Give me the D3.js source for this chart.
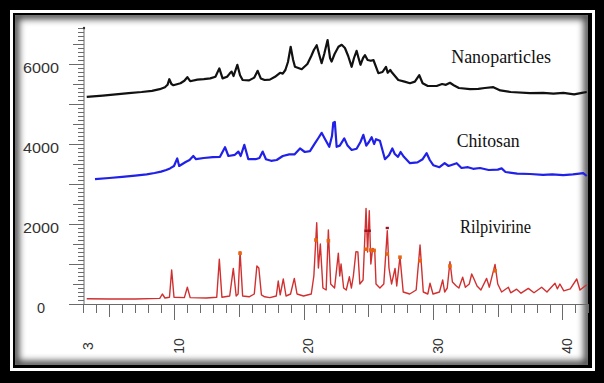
<!DOCTYPE html>
<html><head><meta charset="utf-8">
<script src="https://cdn.jsdelivr.net/npm/d3@7"></script>
<style>html,body{margin:0;padding:0;background:#000;}svg{display:block;}</style>
</head><body>
<script>
// ---- data ----
const nanoparticles = [[3.26,5180],[4.5,5210],[5.5,5240],[6.5,5270],[7.5,5300],[8.3,5330],[8.9,5370],[9.3,5420],[9.5,5480],[9.64,5620],[9.8,5500],[9.95,5470],[10.5,5520],[10.8,5580],[11.03,5670],[11.25,5570],[11.8,5610],[12.3,5620],[12.8,5640],[13.2,5680],[13.5,5890],[13.75,5640],[14.1,5680],[14.3,5760],[14.45,5810],[14.6,5700],[14.89,5980],[15.1,5720],[15.3,5600],[15.8,5590],[16.2,5660],[16.46,5830],[16.7,5640],[17.0,5600],[17.4,5610],[17.8,5680],[18.19,5780],[18.4,5760],[18.6,5850],[18.8,6050],[19.01,6430],[19.2,6100],[19.34,5930],[19.86,5870],[20.3,6000],[20.6,6200],[20.8,6350],[21.02,6470],[21.2,6250],[21.4,6020],[21.6,6250],[21.86,6600],[22.05,6150],[22.17,6060],[22.4,6250],[22.7,6430],[22.95,6480],[23.2,6400],[23.45,6200],[23.72,5930],[23.9,6150],[24.1,6330],[24.25,6150],[24.4,5980],[24.6,6150],[24.75,6220],[24.95,6100],[25.2,6080],[25.4,6100],[25.78,5770],[26.1,5800],[26.37,5930],[26.5,5780],[26.7,5850],[26.85,5780],[27.32,5600],[27.8,5560],[28.22,5520],[28.6,5560],[28.94,5720],[29.2,5520],[29.6,5450],[30.28,5450],[30.7,5500],[31.0,5480],[31.31,5530],[31.6,5470],[32.0,5400],[32.86,5370],[33.5,5380],[34.0,5400],[34.66,5420],[35.2,5340],[36.0,5300],[37.49,5270],[38.5,5280],[39.3,5260],[40.07,5280],[40.9,5240],[41.5,5280],[41.87,5300]];

const chitosan = [[3.9,3120],[5,3150],[6,3180],[7,3210],[7.89,3240],[8.5,3275],[9.0,3310],[9.4,3350],[9.69,3390],[10.0,3450],[10.25,3640],[10.4,3450],[10.9,3550],[11.2,3600],[11.49,3700],[11.7,3620],[12.3,3650],[13.0,3670],[13.55,3680],[13.94,3920],[14.2,3700],[14.7,3730],[14.97,3810],[15.15,3700],[15.43,3980],[15.74,3620],[16.3,3620],[16.6,3650],[16.85,3810],[17.1,3620],[17.5,3580],[17.93,3600],[18.4,3700],[18.9,3740],[19.3,3740],[19.73,3890],[20.1,3800],[20.5,3820],[20.89,4020],[21.15,4150],[21.4,4280],[21.7,4100],[21.99,3930],[22.2,4200],[22.3,4530],[22.42,4550],[22.56,3930],[22.8,3960],[23.15,4140],[23.4,3960],[23.72,3850],[24.1,3880],[24.4,4050],[24.62,4230],[24.85,3960],[25.05,4050],[25.26,4170],[25.45,4000],[25.6,4120],[25.9,4080],[26.29,3620],[26.6,3720],[26.86,3890],[27.05,3750],[27.3,3680],[27.5,3800],[27.75,3680],[28.22,3520],[28.8,3540],[29.2,3620],[29.51,3770],[29.75,3600],[30.02,3470],[30.5,3420],[30.9,3520],[31.2,3450],[31.83,3520],[32.2,3400],[32.7,3420],[33.1,3380],[33.63,3400],[34.3,3350],[35.0,3360],[35.3,3390],[35.6,3300],[36.5,3260],[37.49,3250],[38.5,3230],[39.2,3240],[40.06,3220],[40.8,3240],[41.3,3260],[41.6,3270],[41.87,3200]];

const rilpivirine = [[3.26,130],[5,125],[7,125],[8.9,140],[9.1,250],[9.3,150],[9.65,170],[9.82,850],[10.0,170],[10.8,160],[11.03,420],[11.25,160],[12.5,150],[13.3,170],[13.5,1120],[13.7,170],[14.3,200],[14.58,890],[14.8,200],[14.95,250],[15.1,1310],[15.3,200],[15.8,180],[16.2,250],[16.4,950],[16.55,900],[16.75,230],[17.0,180],[17.4,160],[17.9,200],[18.05,575],[18.2,230],[18.44,625],[18.65,200],[19.0,250],[19.29,640],[19.5,250],[20.0,200],[20.6,250],[20.8,700],[21.02,2030],[21.15,900],[21.3,1500],[21.5,400],[21.75,350],[21.92,1850],[22.1,500],[22.4,400],[22.69,1270],[22.8,700],[22.9,1000],[23.1,400],[23.3,350],[23.54,680],[23.7,400],[23.85,700],[24.05,1310],[24.2,1300],[24.35,500],[24.6,600],[24.83,2390],[24.95,1300],[25.08,2330],[25.2,1000],[25.34,1390],[25.5,1350],[25.6,500],[25.9,400],[26.2,500],[26.47,1830],[26.6,900],[26.8,500],[27.07,890],[27.2,450],[27.45,1180],[27.7,300],[28.2,250],[28.7,350],[29.0,1475],[29.25,300],[29.6,250],[29.77,520],[30.0,250],[30.5,300],[30.75,600],[30.9,300],[31.1,400],[31.31,1060],[31.5,550],[31.8,450],[32.0,400],[32.29,670],[32.5,420],[32.8,500],[32.99,750],[33.2,600],[33.4,450],[33.7,350],[34.14,640],[34.35,420],[34.79,990],[35.0,500],[35.3,300],[35.82,420],[36.0,280],[36.46,370],[36.8,270],[37.36,390],[37.8,280],[38.39,420],[38.8,300],[39.42,517],[39.6,380],[39.8,500],[40.1,330],[40.6,380],[41.1,625],[41.35,350],[41.87,480]];

const rilpiMarks = [[15.1,1270],[20.96,1600],[21.92,1580],[24.83,1370],[25.2,1350],[25.45,1340],[26.47,1250],[27.45,1170],[29.0,1080],[31.31,950],[34.79,830]];
const rilpiDarkMarks = [[24.83,1830],[25.08,1830],[26.47,1900]];

const seriesLabels = ["Nanoparticles","Chitosan","Rilpivirine"];
const labelPos = [[31.4,6017],[31.83,3933],[32.09,1767]];
const labelLen = [100,63,71];

const xMinorTicks = d3.range(3,43,1);
const yMinorTicks = d3.range(0,6901,100);
const xTickLabels = [3,10,20,30,40];
const yTickLabels = [0,2000,4000,6000];

// ---- drawing ----
const W=604,H=383;
const svg=d3.select("body").append("svg").attr("width",W).attr("height",H);
const defs=svg.append("defs");
defs.append("filter").attr("id","blur").append("feGaussianBlur").attr("stdDeviation",3.5);
defs.append("clipPath").attr("id","inner").append("rect").attr("x",15).attr("y",15).attr("width",573).attr("height",350);

svg.append("rect").attr("width",W).attr("height",H).attr("fill","#000");
svg.append("rect").attr("x",10).attr("y",10).attr("width",585).attr("height",361).attr("fill","#fff");
svg.append("rect").attr("x",13).attr("y",13).attr("width",579).attr("height",355).attr("fill","#000");
svg.append("rect").attr("x",15).attr("y",15).attr("width",573).attr("height",350).attr("fill","#fff");
svg.append("g").attr("clip-path","url(#inner)").append("rect")
  .attr("x",15).attr("y",15).attr("width",573).attr("height",350)
  .attr("fill","none").attr("stroke","#000").attr("stroke-width",8).attr("opacity",0.75).attr("filter","url(#blur)");

const x=d3.scaleLinear().domain([3,42]).range([83.35,588.4]);
const y=d3.scaleLinear().domain([0,6900]).range([304,28]);

const axisCol="#6a6a6a";
const g=svg.append("g");
// y axis
g.append("line").attr("x1",84).attr("x2",84).attr("y1",y(6900)).attr("y2",y(0)).attr("stroke",axisCol).attr("stroke-width",1);
g.selectAll(".yt").data(yMinorTicks).join("line")
  .attr("x1",d=>84-(d%1000===0?15:(d%500===0?11:6))).attr("x2",84)
  .attr("y1",d=>Math.round(y(d))+0.5).attr("y2",d=>Math.round(y(d))+0.5)
  .attr("stroke",axisCol).attr("stroke-width",1);
g.append("circle").attr("cx",84).attr("cy",y(6900)).attr("r",1.2).attr("fill","#333");
g.selectAll(".yl").data(yTickLabels).join("text")
  .attr("x",41).attr("y",d=>y(d)+4).attr("text-anchor","middle").attr("dominant-baseline","central")
  .attr("font-family","Liberation Sans, Arial, sans-serif").attr("font-size",14.5).attr("fill","#333")
  .each(function(d){ if(String(d).length>1) d3.select(this).attr("textLength",36).attr("lengthAdjust","spacingAndGlyphs"); })
  .text(d=>d);
// x axis
g.append("line").attr("x1",x(3)).attr("x2",x(42)).attr("y1",304.5).attr("y2",304.5).attr("stroke",axisCol).attr("stroke-width",1);
g.selectAll(".xt").data(xMinorTicks).join("line")
  .attr("x1",d=>Math.round(x(d))+0.5).attr("x2",d=>Math.round(x(d))+0.5)
  .attr("y1",304).attr("y2",d=>304+(d%10===0?16:(d%5===0?13:9)))
  .attr("stroke",axisCol).attr("stroke-width",1);
g.selectAll(".xl").data(xTickLabels).join("text")
  .attr("transform",d=>`translate(${x(d)+4.5},346) rotate(-90)`)
  .attr("text-anchor","middle").attr("dominant-baseline","central")
  .attr("font-family","Liberation Sans, Arial, sans-serif").attr("font-size",14).attr("fill","#333")
  .text(d=>d);

const line=d3.line().x(d=>x(d[0])).y(d=>y(d[1]));
svg.append("path").datum(nanoparticles).attr("d",line).attr("fill","none").attr("stroke","#111").attr("stroke-width",2.2).attr("stroke-linejoin","round");
svg.append("path").datum(chitosan).attr("d",line).attr("fill","none").attr("stroke","#2020e8").attr("stroke-width",2.2).attr("stroke-linejoin","round");
svg.append("path").datum(rilpivirine).attr("d",line).attr("fill","none").attr("stroke","#d03030").attr("stroke-width",1.4).attr("stroke-linejoin","round");
svg.selectAll(".om").data(rilpiMarks).join("rect")
  .attr("x",d=>x(d[0])-1.8).attr("y",d=>y(d[1])-1.8).attr("width",3.6).attr("height",3.6).attr("fill","#e8650f");
svg.selectAll(".dm").data(rilpiDarkMarks).join("rect")
  .attr("x",d=>x(d[0])-1.6).attr("y",d=>y(d[1])-1.2).attr("width",3.2).attr("height",2.4).attr("fill","#a01020");

svg.selectAll(".lab").data(seriesLabels).join("text")
  .attr("x",(d,i)=>x(labelPos[i][0])).attr("y",(d,i)=>y(labelPos[i][1]))
  .attr("font-family","Liberation Serif, Times New Roman, serif").attr("font-size",18).attr("fill","#111")
  .attr("textLength",(d,i)=>labelLen[i]).attr("lengthAdjust","spacingAndGlyphs")
  .text(d=>d);
</script>
</body></html>
